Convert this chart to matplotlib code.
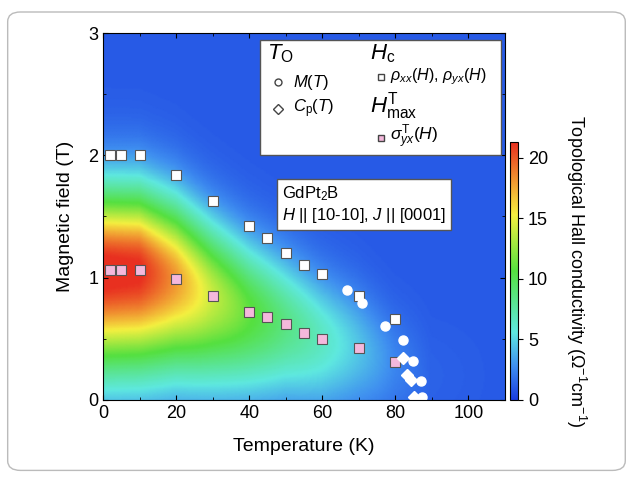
import numpy as np
import matplotlib.pyplot as plt
from matplotlib.patches import FancyBboxPatch
from matplotlib.colors import LinearSegmentedColormap

plt.rcParams['font.family'] = ['Liberation Sans', 'DejaVu Sans']
plt.rcParams['mathtext.fontset'] = 'custom'
plt.rcParams['mathtext.rm'] = 'Liberation Sans'
plt.rcParams['mathtext.it'] = 'Liberation Sans:italic'

# Hc from rho_xx, rho_yx (white squares)
hc_T = [2, 5, 10, 20, 30, 40, 45, 50, 55, 60, 70, 80]
hc_H = [2.0, 2.0, 2.0, 1.84, 1.63, 1.42, 1.32, 1.2, 1.1, 1.03, 0.85, 0.66]
# H^T_max from sigma^T_yx (pink squares)
hm_T = [2, 5, 10, 20, 30, 40, 45, 50, 55, 60, 70, 80]
hm_H = [1.06, 1.06, 1.06, 0.99, 0.85, 0.72, 0.68, 0.62, 0.55, 0.5, 0.42, 0.31]
# T_O from M(T) (circles) and Cp(T) (diamonds)
m_T = [66.7, 70.8, 77.3, 82.0, 84.7, 86.9, 87.2]
m_H = [0.9, 0.79, 0.6, 0.49, 0.32, 0.155, 0.02]
cp_T = [82.0, 83.3, 84.4, 85.2]
cp_H = [0.34, 0.2, 0.16, 0.02]

# topological Hall conductivity map: ridge profile vs temperature
prof_T = [0, 10, 20, 30, 40, 50, 60, 70, 80, 90, 110]
prof_amp = [21, 20.5, 17, 13, 10, 7.5, 5.5, 3.5, 1.5, 0.3, 0]
prof_H = [1.06, 1.06, 0.99, 0.85, 0.72, 0.62, 0.5, 0.42, 0.31, 0.2, 0.2]
prof_wup = [0.45, 0.45, 0.44, 0.42, 0.4, 0.38, 0.36, 0.34, 0.3, 0.3, 0.3]
prof_wlo = [0.56, 0.56, 0.53, 0.5, 0.46, 0.42, 0.4, 0.36, 0.32, 0.3, 0.3]
background = 1.0

T = np.linspace(0, 110, 300)
H = np.linspace(0, 3, 300)
TT, HH = np.meshgrid(T, H)
amp = np.interp(TT, prof_T, prof_amp)
h0 = np.interp(TT, prof_T, prof_H)
w = np.where(HH > h0, np.interp(TT, prof_T, prof_wup), np.interp(TT, prof_T, prof_wlo))
Z = background + amp * np.exp(-(HH - h0) ** 2 / (2 * w ** 2))

cmap = LinearSegmentedColormap.from_list('rb', [
    (0.0, '#1a3ce0'), (0.13, '#3f8ff0'), (0.26, '#5ee8e0'), (0.5, '#55e040'),
    (0.72, '#f5f040'), (0.86, '#f09030'), (1.0, '#e83020')])

fig = plt.figure(figsize=(6.4, 4.8), dpi=100)
frame = FancyBboxPatch((0.012, 0.02), 0.965, 0.955, boxstyle="round,pad=0,rounding_size=0.02",
                       transform=fig.transFigure, facecolor='white', edgecolor='#bbbbbb', lw=1, zorder=-1)
fig.patches.append(frame)

ax = fig.add_axes([0.161, 0.167, 0.628, 0.764])
im = ax.pcolormesh(TT, HH, Z, cmap=cmap, vmin=0, vmax=21.3, shading='gouraud')
ax.set_xlim(0, 110)
ax.set_ylim(0, 3)
ax.set_xticks([0, 20, 40, 60, 80, 100])
ax.set_yticks([0, 1, 2, 3])
ax.set_xticks([10, 30, 50, 70, 90, 110], minor=True)
ax.set_yticks([0.5, 1.5, 2.5], minor=True)
ax.tick_params(which='both', direction='in', top=True, right=True, labelsize=13)
ax.set_xlabel('Temperature (K)', fontsize=14, labelpad=12)
ax.set_ylabel('Magnetic field (T)', fontsize=14, labelpad=10)

sq = dict(marker='s', ms=6.5, mec='#555555', mew=0.8, ls='none')
ax.plot(hc_T, hc_H, mfc='white', **sq)
ax.plot(hm_T, hm_H, mfc='#f4b8dc', **sq)
ax.plot(m_T, m_H, 'o', ms=6.5, mfc='white', mec='white', ls='none')
ax.plot(cp_T, cp_H, 'D', ms=6, mfc='white', mec='white', ls='none')

# legend box
ax.add_patch(plt.Rectangle((43, 2.0), 66, 0.94, facecolor='white', edgecolor='#555555', lw=1, zorder=5))
kw = dict(zorder=6, va='center')
ax.text(45, 2.83, r'$T_\mathrm{O}$', fontsize=16, **kw)
ax.plot(48, 2.6, 'o', ms=5, mfc='white', mec='#444444', zorder=6)
ax.text(52, 2.6, r'$M(T)$', fontsize=12, **kw)
ax.plot(48, 2.38, 'D', ms=5, mfc='white', mec='#444444', zorder=6)
ax.text(52, 2.38, r'$C_\mathrm{p}(T)$', fontsize=12, **kw)
ax.text(73, 2.83, r'$H_\mathrm{c}$', fontsize=16, **kw)
ax.plot(76, 2.64, 's', ms=5, mfc='white', mec='#444444', zorder=6)
ax.text(78.5, 2.64, r'$\rho_{xx}(H)$, $\rho_{yx}(H)$', fontsize=11.5, **kw)
ax.text(73, 2.4, r'$H^\mathrm{T}_\mathrm{max}$', fontsize=16, **kw)
ax.plot(76, 2.14, 's', ms=5, mfc='#f4b8dc', mec='#444444', zorder=6)
ax.text(78.5, 2.15, r'$\sigma^\mathrm{T}_{yx}(H)$', fontsize=12.5, **kw)

ax.text(49, 1.6, 'GdPt$_2$B\n$H$ || [10-10], $J$ || [0001]', fontsize=12, va='center',
        bbox=dict(facecolor='white', edgecolor='#555555', boxstyle='square,pad=0.3'))

cax = fig.add_axes([0.797, 0.167, 0.013, 0.537])
cb = fig.colorbar(im, cax=cax, ticks=[0, 5, 10, 15, 20])
cb.ax.tick_params(labelsize=13, direction='out')
cax.text(7.9, 0.5, r'Topological Hall conductivity ($\Omega^{-1}$cm$^{-1}$)', rotation=-90,
         transform=cax.transAxes, va='center', ha='center', fontsize=13)

fig.savefig('out.png', dpi=100)
